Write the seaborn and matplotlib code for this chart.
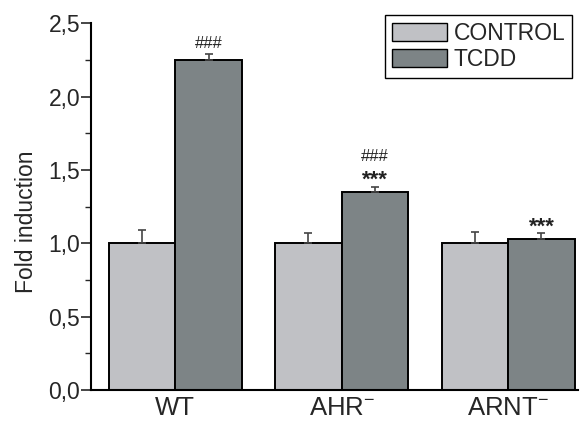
import numpy as np
import pandas as pd
import matplotlib
matplotlib.use("Agg")
import matplotlib.pyplot as plt
import matplotlib.patches as mpatches
from matplotlib.ticker import MultipleLocator, FuncFormatter
import seaborn as sns

groups = ["WT", r"AHR$^{\mathrm{-}}$", r"ARNT$^{\mathrm{-}}$"]
treatments = ["CONTROL", "TCDD"]
control_vals = [1.0, 1.0, 1.0]
control_err = [0.09, 0.067, 0.075]
tcdd_vals = [2.25, 1.35, 1.03]
tcdd_err = [0.04, 0.035, 0.04]
hash_marks = ["###", "###", ""]
star_marks = ["", "***", "***"]
colors = ["#c0c1c5", "#7d8486"]

sns.set_style("white")
plt.rcParams["font.family"] = ["Liberation Sans", "DejaVu Sans"]
plt.rcParams["mathtext.fontset"] = "custom"
plt.rcParams["mathtext.rm"] = "Liberation Sans"
plt.rcParams["mathtext.it"] = "Liberation Sans:italic"
plt.rcParams["mathtext.bf"] = "Liberation Sans:bold"

df = pd.DataFrame({
    "group": groups * 2,
    "treatment": [treatments[0]] * 3 + [treatments[1]] * 3,
    "value": control_vals + tcdd_vals,
})

fig = plt.figure(figsize=(5.81, 4.29), dpi=100)
ax = fig.add_axes([0.157, 0.091, 0.838, 0.855])
sns.barplot(data=df, x="group", y="value", hue="treatment", palette=colors,
            errorbar=None, width=0.8, edgecolor="black", linewidth=1.4,
            saturation=1, ax=ax, legend=False)

# error bars (upper only) at the bar centres
errs = control_err + tcdd_err
for bar, e in zip(ax.patches, errs):
    cx = bar.get_x() + bar.get_width() / 2
    h = bar.get_height()
    ax.errorbar(cx, h, yerr=[[0], [e]], fmt="none", ecolor="#444444",
                elinewidth=1.2, capsize=3, capthick=1.2, zorder=1)

# significance marks over the TCDD bars
tcdd_bars = ax.patches[3:6]
for i, bar in enumerate(tcdd_bars):
    cx = bar.get_x() + bar.get_width() / 2
    top = tcdd_vals[i] + tcdd_err[i]
    if star_marks[i]:
        ax.text(cx, top + 0.005, star_marks[i], ha="center", va="baseline",
                fontsize=16, fontweight="bold", color="#222222")
        ax.text(cx, top + 0.155, hash_marks[i], ha="center", va="bottom",
                fontsize=12, color="#222222")
    elif hash_marks[i]:
        ax.text(cx, top + 0.02, hash_marks[i], ha="center", va="bottom",
                fontsize=12, color="#222222")

ax.set_xlim(-0.505, 2.42)
ax.set_ylim(0, 2.5)
ax.yaxis.set_major_locator(MultipleLocator(0.5))
ax.yaxis.set_minor_locator(MultipleLocator(0.25))
ax.yaxis.set_major_formatter(FuncFormatter(lambda v, p: f"{v:.1f}".replace(".", ",")))
ax.tick_params(axis="y", which="major", direction="out", length=7, width=1.2,
               labelsize=16.5, left=True, pad=1)
ax.tick_params(axis="y", which="minor", direction="out", length=4, width=1.0, left=True)
ax.tick_params(axis="x", length=0, labelsize=18.5, pad=4)
ax.set_xlabel("")
ax.set_ylabel("Fold induction", fontsize=16.5)
ax.yaxis.set_label_coords(-0.109, 0.458)

for s in ["top", "right"]:
    ax.spines[s].set_visible(False)
for s in ["left", "bottom"]:
    ax.spines[s].set_linewidth(1.5)
    ax.spines[s].set_color("black")

handles = [mpatches.Patch(facecolor=c, edgecolor="black", linewidth=1.0, label=t)
           for c, t in zip(colors, treatments)]
leg = ax.legend(handles=handles, loc="upper right", bbox_to_anchor=(0.988, 1.023),
                fontsize=16.5, frameon=True, fancybox=False, framealpha=1,
                edgecolor="black", handlelength=2.4, handleheight=0.83,
                handletextpad=0.3, labelspacing=0.15, borderpad=0.3,
                borderaxespad=0)
leg.get_frame().set_linewidth(1.0)

fig.savefig("out.png", dpi=100)
